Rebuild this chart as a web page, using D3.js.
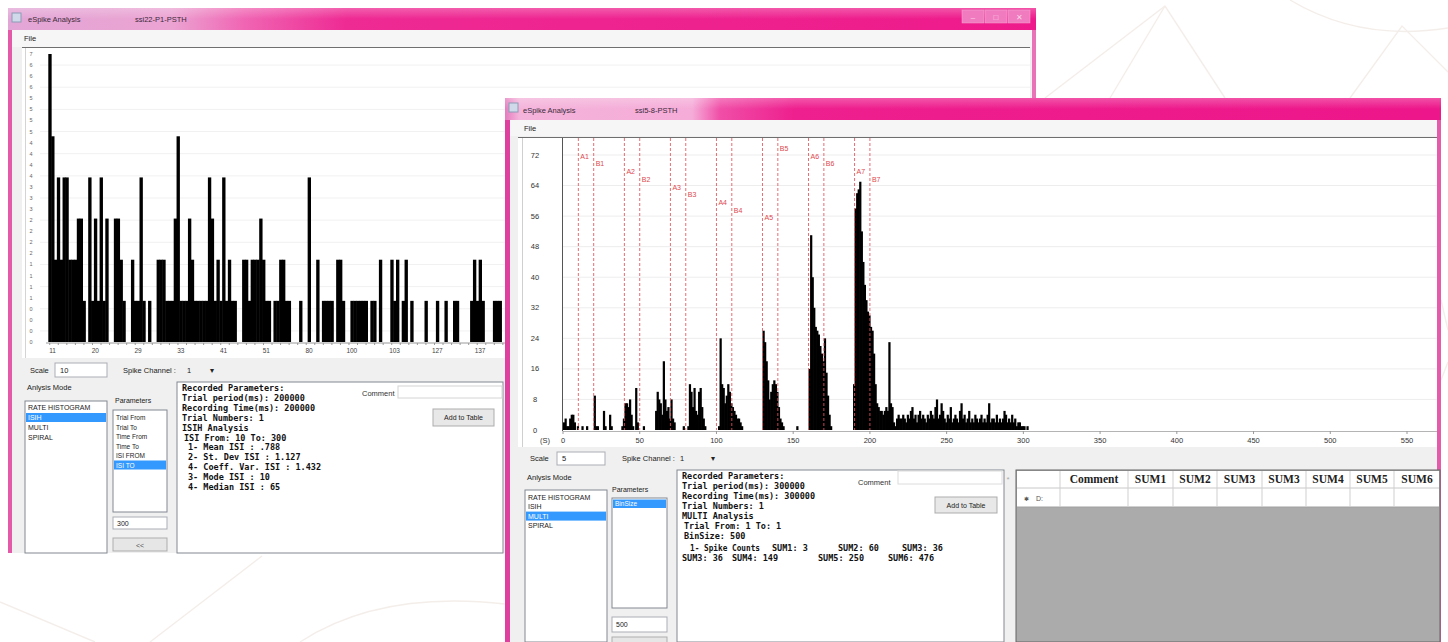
<!DOCTYPE html>
<html><head><meta charset="utf-8">
<script src="https://cdn.jsdelivr.net/npm/d3@7"></script>
<style>
body{margin:0;background:#fff;overflow:hidden}
text{font-family:"Liberation Sans",Arial,sans-serif}
.mono{font-family:"DejaVu Sans Mono","Liberation Mono",monospace;font-weight:bold}
</style>
</head><body><script>
// ---------------- DATA ----------------
const leftValues=[7,5,2,4,2,4,4,2,2,2, 3,3,1,0,4,1,3,1,4,1, 3,0,0,3,3,2,1,0,0,2, 1,1,4,1,0,1,0,0,2,2,
 2,1,1,1,3,5,1,1,1,3, 2,1,1,1,1,1,4,3,1,2, 1,4,1,2,1,1,0,0,2,2, 1,2,2,2,3,2,1,1,0,1,
 1,2,2,1,1,0,0,0,1,0, 0,4,0,0,2,0,1,1,1,1, 0,2,2,1,0,0,1,1,1,1, 1,1,0,1,1,0,2,0,0,0,
 2,1,2,0,1,2,0,1,0,0, 0,0,1,0,0,0,1,0,0,1, 0,0,1,1,0,0,0,0,1,2, 1,2,1,0,0,0,1,1,1,0];
const leftTickBins=[1,16,31,46,61,76,91,106,121,136,151];
const leftTickLabels=["11","20","29","33","41","51","80","100","103","127","137"];
const leftYMax=7;

const rightValues=[2,3,1,1,3,4,4,2,0,1, 0,0,1,0,0,1,0,0,0,0, 9,1,1,0,0,0,5,1,0,0, 4,1,0,0,0,0,0,0,1,3,
 7,7,6,8,4,1,0,11,2,0, 0,0,1,0,0,0,0,0,0,0, 5,10,8,7,4,18,8,5,6,3, 8,3,2,0,0,0,0,0,1,0,
 0,1,12,10,6,11,5,4,10,11, 6,3,1,0,0,0,0,0,0,0, 0,1,24,12,11,7,9,12,10,7, 6,5,4,3,3,2,1,0,0,0,
 0,0,0,0,0,0,0,0,0,0, 26,23,18,13,8,10,12,13,12,10, 6,3,2,1,0,0,0,0,0,0, 0,0,1,0,0,0,0,0,0,0,
 16,51,40,32,27,26,25,22,20,18, 24,15,9,4,1,0,0,0,0,0, 0,0,0,0,0,0,0,0,0,12, 58,62,63,65,52,44,38,34,31,30,
 27,26,20,12,7,6,5,5,4,5, 6,5,23,7,6,2,1,3,4,3, 3,4,3,2,4,3,5,6,3,4, 2,4,5,3,4,3,2,4,3,5,
 4,3,6,8,3,4,7,5,3,2, 4,3,6,2,3,4,3,2,5,7, 3,4,2,3,5,2,3,2,4,3, 2,3,4,2,3,2,4,7,2,3,
 3,2,4,2,3,2,3,5,4,2, 3,2,4,2,3,1,2,2,1,1, 1,0,1];
const rightXTicks=[0,50,100,150,200,250,300,350,400,450,500,550];
const rightYTicks=[0,8,16,24,32,40,48,56,64,72];
const markerNames=["A1","B1","A2","B2","A3","B3","A4","B4","A5","B5","A6","B6","A7","B7"];
const markerPos=[10,20,40,50,70,80,100,110,130,140,160,170,190,200];

const modes=["RATE HISTOGRAM","ISIH","MULTI","SPIRAL"];
const leftParams=["Trial From","Trial To","Time From","Time To","ISI FROM","ISI TO"];
const rightParams=["BinSize"];
const leftReport=["Recorded Parameters:","Trial period(ms): 200000","Recording Time(ms): 200000","Trial Numbers: 1","ISIH Analysis",
 "ISI From: 10  To: 300","1- Mean ISI : .788","2- St. Dev ISI : 1.127","4- Coeff. Var. ISI : 1.432","3- Mode ISI : 10","4- Median ISI : 65"];
const rightReport=["Recorded Parameters:","Trial period(ms): 300000","Recording Time(ms): 300000","Trial Numbers: 1","MULTI Analysis",
 "Trial From: 1  To: 1","BinSize: 500"];
const spikeLabel="1- Spike Counts";
const sumsA=[["SUM1",3],["SUM2",60],["SUM3",36]];
const sumsB=[["SUM3",36],["SUM4",149],["SUM5",250],["SUM6",476]];
const tableCols=["Comment","SUM1","SUM2","SUM3","SUM3","SUM4","SUM5","SUM6"];

// ---------------- HELPERS ----------------
const svg=d3.select("body").append("svg").attr("width",1448).attr("height",642);
function rect(g,x,y,w,h,fill,stroke,sw){
  const r=g.append("rect").attr("x",x).attr("y",y).attr("width",w).attr("height",h).attr("fill",fill||"none");
  if(stroke) r.attr("stroke",stroke).attr("stroke-width",sw||1);
  return r;
}
function txt(g,x,y,s,size,fill,extra){
  const t=g.append("text").attr("x",x).attr("y",y).attr("font-size",size).attr("fill",fill||"#222").text(s);
  if(extra) for(const k in extra) t.attr(k,extra[k]);
  return t;
}
function hline(g,x1,x2,y,stroke,extra){
  const l=g.append("line").attr("x1",x1).attr("x2",x2).attr("y1",y).attr("y2",y).attr("stroke",stroke);
  if(extra) for(const k in extra) l.attr(k,extra[k]); return l;
}
function vline(g,x,y1,y2,stroke,extra){
  const l=g.append("line").attr("x1",x).attr("x2",x).attr("y1",y1).attr("y2",y2).attr("stroke",stroke);
  if(extra) for(const k in extra) l.attr(k,extra[k]); return l;
}
const defs=svg.append("defs");
function grad(id,stops){
  const g=defs.append("linearGradient").attr("id",id).attr("x1","0").attr("x2","1").attr("y1","0").attr("y2","0");
  stops.forEach(s=>g.append("stop").attr("offset",s[0]).attr("stop-color",s[1]));
}
grad("tgL",[["0%","#e2a6d6"],["16%","#eba3d2"],["23%","#f065b3"],["33%","#ee2a93"],["100%","#ee1a8b"]]);
grad("tgR",[["0%","#e57cbf"],["1.5%","#f4b3da"],["20%","#f5acd8"],["23%","#f04ea7"],["31%","#ee1f8e"],["100%","#ed168a"]]);
const vg=defs.append("linearGradient").attr("id","tshade").attr("x1","0").attr("x2","0").attr("y1","0").attr("y2","1");
vg.append("stop").attr("offset","0%").attr("stop-color","#fff").attr("stop-opacity",0.25);
vg.append("stop").attr("offset","100%").attr("stop-color","#fff").attr("stop-opacity",0);

// ---------------- BACKGROUND DECOR ----------------
const bg=svg.append("g").attr("fill","none").attr("stroke","#f4eeea").attr("stroke-width",1.4);
["M1045,98 L1165,6 L1225,98","M1110,98 L1165,6","M1290,0 Q1360,42 1448,28","M1350,98 L1402,26 L1448,72",
 "M0,602 L95,642","M150,642 L262,556","M300,642 Q380,590 505,604","M1441,300 L1448,330","M1441,380 L1448,362"]
 .forEach(d=>bg.append("path").attr("d",d));

// ---------------- LEFT WINDOW ----------------
const LW=svg.append("g");
rect(LW,8,8,1028,545,"#f0f0f0");
rect(LW,8,8,1028,22,"url(#tgL)");
rect(LW,8,8,1028,11,"url(#tshade)");
rect(LW,8,30,4,523,"#e35aa8");
rect(LW,1032,30,4,70,"#e873b6");
rect(LW,12,13,9,9,"#cfd9ea","#8b9bb6");
txt(LW,28,22,"eSpike Analysis",7.5,"#3a2a3a");
txt(LW,135,22,"ssi22-P1-PSTH",7.5,"#3a2a3a");
[[962,"–"],[985,"□"],[1008,"✕"]].forEach(b=>{rect(LW,b[0],10,22,13,"#f07cbf","#f4a6d2",0.5);txt(LW,b[0]+11,20,b[1],8,"#f9d2e8",{"text-anchor":"middle"});});
rect(LW,12,30,1020,17,"#f6f6f6");
txt(LW,24,41,"File",7.5,"#222");
rect(LW,22,47,1008,311,"#fff");
hline(LW,22,1030,47.5,"#6f6f6f");
vline(LW,25.5,48,358,"#d4d4d4");

// left chart
const xL=d3.scaleBand().domain(d3.range(leftValues.length)).range([48.3,48.3+leftValues.length*2.85]);
const yL=d3.scaleLinear().domain([0,leftYMax]).range([342,54]);
const lYTicks=d3.range(27).map(k=>k*leftYMax/26);
const lc=LW.append("g");
lc.selectAll(".lg").data(lYTicks.filter((d,i)=>i%2===1)).join("line")
  .attr("x1",40).attr("x2",1030).attr("y1",d=>yL(d)).attr("y2",d=>yL(d)).attr("stroke","#f1f1f1");
lc.selectAll(".ly").data(lYTicks).join("text").attr("x",31).attr("y",d=>yL(d)+2)
  .attr("font-size",5.5).attr("fill","#666").attr("text-anchor","middle").text(d=>Math.floor(d+1e-9));
lc.selectAll(".lb").data(leftValues.map((v,i)=>({v,i})).filter(d=>d.v>0)).join("rect")
  .attr("x",d=>xL(d.i)).attr("width",xL.bandwidth()+0.5)
  .attr("y",d=>yL(d.v)).attr("height",d=>yL(0)-yL(d.v)).attr("fill","#000");
hline(lc,46,1030,343,"#9a9a9a");
lc.selectAll(".lmt").data(d3.range(0,leftValues.length,3)).join("line")
  .attr("x1",d=>xL(d)+xL.bandwidth()/2).attr("x2",d=>xL(d)+xL.bandwidth()/2).attr("y1",343).attr("y2",345).attr("stroke","#9a9a9a");
lc.selectAll(".lxt").data(leftTickBins).join("text").attr("x",d=>xL(d)+xL.bandwidth()/2).attr("y",353)
  .attr("font-size",6.5).attr("fill","#444").attr("text-anchor","middle").text((d,i)=>leftTickLabels[i]);

// left controls
txt(LW,30,373,"Scale",7.5);
rect(LW,55,363,52,14,"#fff","#abadb3"); txt(LW,60,373,"10",7.5);
txt(LW,123,373,"Spike Channel :",7.5);
txt(LW,187,373,"1",7.5); txt(LW,210,373,"▾",8);
txt(LW,27,390,"Anlysis Mode",7.5);
rect(LW,25,401,82,152,"#fff","#828790");
modes.forEach((m,i)=>{const y=410+i*10; if(i===1) rect(LW,26,y-7,80,9,"#3399ff"); txt(LW,28,y,m,7,i===1?"#fff":"#222");});
txt(LW,115,403,"Parameters",7);
rect(LW,113,410,54,102,"#fff","#828790");
leftParams.forEach((p,i)=>{const y=420+i*9.5; if(i===5) rect(LW,114,y-7,52,9,"#3399ff"); txt(LW,116,y,p,6.5,i===5?"#fff":"#222");});
rect(LW,113,517,54,12,"#fff","#abadb3"); txt(LW,117,526,"300",7);
rect(LW,113,538,54,13,"#e6e6e6","#adadad"); txt(LW,140,548,"<<",7,"#555",{"text-anchor":"middle"});
rect(LW,177,382,326,171,"#fff","#828790");
leftReport.forEach((s,i)=>txt(LW,i<5?182:(i===5?184:188),391+i*9.9,s,8.5,"#111",{"class":"mono"}));
txt(LW,362,396,"Comment",7.5,"#333");
rect(LW,398,386,104,12,"#fff","#d4d4d4");
rect(LW,433,409,61,17,"#e8e8e8","#adadad"); txt(LW,463.5,420,"Add to Table",7,"#222",{"text-anchor":"middle"});

// ---------------- RIGHT WINDOW ----------------
const RW=svg.append("g");
rect(RW,505,98,936,544,"#f0f0f0");
rect(RW,505,98,936,22,"url(#tgR)");
rect(RW,505,98,936,11,"url(#tshade)");
rect(RW,505,120,5,522,"#df3f9f");
rect(RW,1437,120,4,522,"#e65aab");
rect(RW,509,103,9,9,"#cfd9ea","#8b9bb6");
txt(RW,523,113,"eSpike Analysis",7.5,"#3a2a3a");
txt(RW,635,113,"ssi5-8-PSTH",7.5,"#3a2a3a");
rect(RW,510,120,927,16,"#f6f6f6");
txt(RW,524,131,"File",7.5,"#222");
rect(RW,518,137,919,310,"#fff");
hline(RW,518,1437,137.5,"#6e6e6e");
vline(RW,522.5,138,447,"#cfcfcf");

const xR=d3.scaleLinear().domain([0,550]).range([563,1407]);
const yR=d3.scaleLinear().domain([0,72]).range([430,155]);
const rc=RW.append("g");
rc.selectAll(".rg").data(rightYTicks.slice(1)).join("line")
  .attr("x1",563).attr("x2",1437).attr("y1",d=>yR(d)).attr("y2",d=>yR(d)).attr("stroke","#ededed");
rc.selectAll(".ry").data(rightYTicks).join("text").attr("x",535).attr("y",d=>yR(d)+2.5)
  .attr("font-size",7.5).attr("fill","#333").attr("text-anchor","middle").text(d=>d);
const bw=xR(1)-xR(0);
rc.selectAll(".rb").data(rightValues.map((v,i)=>({v,i})).filter(d=>d.v>0)).join("rect")
  .attr("x",d=>xR(d.i)).attr("width",bw+0.7)
  .attr("y",d=>yR(d.v)).attr("height",d=>yR(0)-yR(d.v)).attr("fill","#000");
vline(rc,xR(0)-0.5,138,431,"#555");
hline(rc,563,1437,431.5,"#b4b4b4");
rc.selectAll(".rxt").data(rightXTicks).join("line").attr("x1",d=>xR(d)).attr("x2",d=>xR(d))
  .attr("y1",431).attr("y2",434).attr("stroke","#999");
rc.selectAll(".rxl").data(rightXTicks).join("text").attr("x",d=>xR(d)).attr("y",443)
  .attr("font-size",7.5).attr("fill","#333").attr("text-anchor","middle").text(d=>d);
txt(rc,540,443,"(S)",7.5,"#333");
// markers
const mk=rc.append("g");
mk.selectAll("line").data(markerPos).join("line").attr("x1",d=>xR(d)).attr("x2",d=>xR(d))
  .attr("y1",138).attr("y2",430).attr("stroke","#e4545c").attr("stroke-width",1).attr("stroke-dasharray","3,2").attr("opacity",0.85);
mk.selectAll("text").data(markerNames).join("text").attr("x",(d,i)=>xR(markerPos[i])+2)
  .attr("y",(d,i)=>yR(72)-4+((i+1)%10)*7.7).attr("font-size",7).attr("fill","#e0474f").text(d=>d);

// right controls
txt(RW,530,461,"Scale",7.5);
rect(RW,557,452,48,13,"#fff","#abadb3"); txt(RW,562,461,"5",7.5);
txt(RW,622,461,"Spike Channel :",7.5);
txt(RW,680,461,"1",7.5); txt(RW,711,461,"▾",8);
txt(RW,527,480,"Anlysis Mode",7.5);
rect(RW,525,490,82,152,"#fff","#828790");
modes.forEach((m,i)=>{const y=500+i*9.3; if(i===2) rect(RW,526,y-7,80,9,"#3399ff"); txt(RW,528,y,m,7,i===2?"#fff":"#222");});
txt(RW,612,492,"Parameters",7);
rect(RW,612,498,55,110,"#fff","#828790");
rightParams.forEach((p,i)=>{const y=506+i*9.5; rect(RW,613,y-6.5,53,8.5,"#3399ff"); txt(RW,615,y,p,6.5,"#fff");});
rect(RW,612,617,55,15,"#fff","#abadb3"); txt(RW,616,627,"500",7);
rect(RW,612,637,55,10,"#e6e6e6","#adadad");
rect(RW,677,470,327,172,"#fff","#828790");
rightReport.forEach((s,i)=>txt(RW,i<5?682:684,479+i*10.05,s,8.5,"#111",{"class":"mono"}));
txt(RW,690,550.5,spikeLabel,8.5,"#111",{"class":"mono","textLength":70,"lengthAdjust":"spacingAndGlyphs"});
const colA=[772,838,902], colB=[682,732,818,888];
sumsA.forEach((s,i)=>txt(RW,colA[i],550.5,s[0]+": "+s[1],8.5,"#111",{"class":"mono"}));
sumsB.forEach((s,i)=>txt(RW,colB[i],560.7,s[0]+": "+s[1],8.5,"#111",{"class":"mono"}));
txt(RW,858,485,"Comment",7.5,"#333");
rect(RW,898,471,104,13,"#fff","#dcdcdc");
rect(RW,935,497,62,16,"#e8e8e8","#adadad"); txt(RW,966,508,"Add to Table",7,"#222",{"text-anchor":"middle"});
txt(RW,1008,482,"*",8,"#aaa",{"text-anchor":"middle"});

// table
const colX=[1016,1060,1128,1173,1217,1262,1306,1350,1394,1440];
rect(RW,1016,470,424,172,"#ababab","#646464");
rect(RW,1017,471,422,17,"#fff");
rect(RW,1017,488,422,19,"#fff");
hline(RW,1017,1439,488,"#c8c8c8");
hline(RW,1017,1439,507,"#a0a0a0");
colX.slice(1,-1).forEach(x=>vline(RW,x,471,507,"#cfcfcf"));
tableCols.forEach((c,i)=>txt(RW,(colX[i+1]+colX[i+2])/2,483,c,11.5,"#222",
  {"text-anchor":"middle","font-weight":"bold","style":"font-family:'Liberation Serif',serif"}));
txt(RW,1024,501,"✱",6,"#555"); txt(RW,1036,501,"D:",7,"#555");
</script></body></html>
